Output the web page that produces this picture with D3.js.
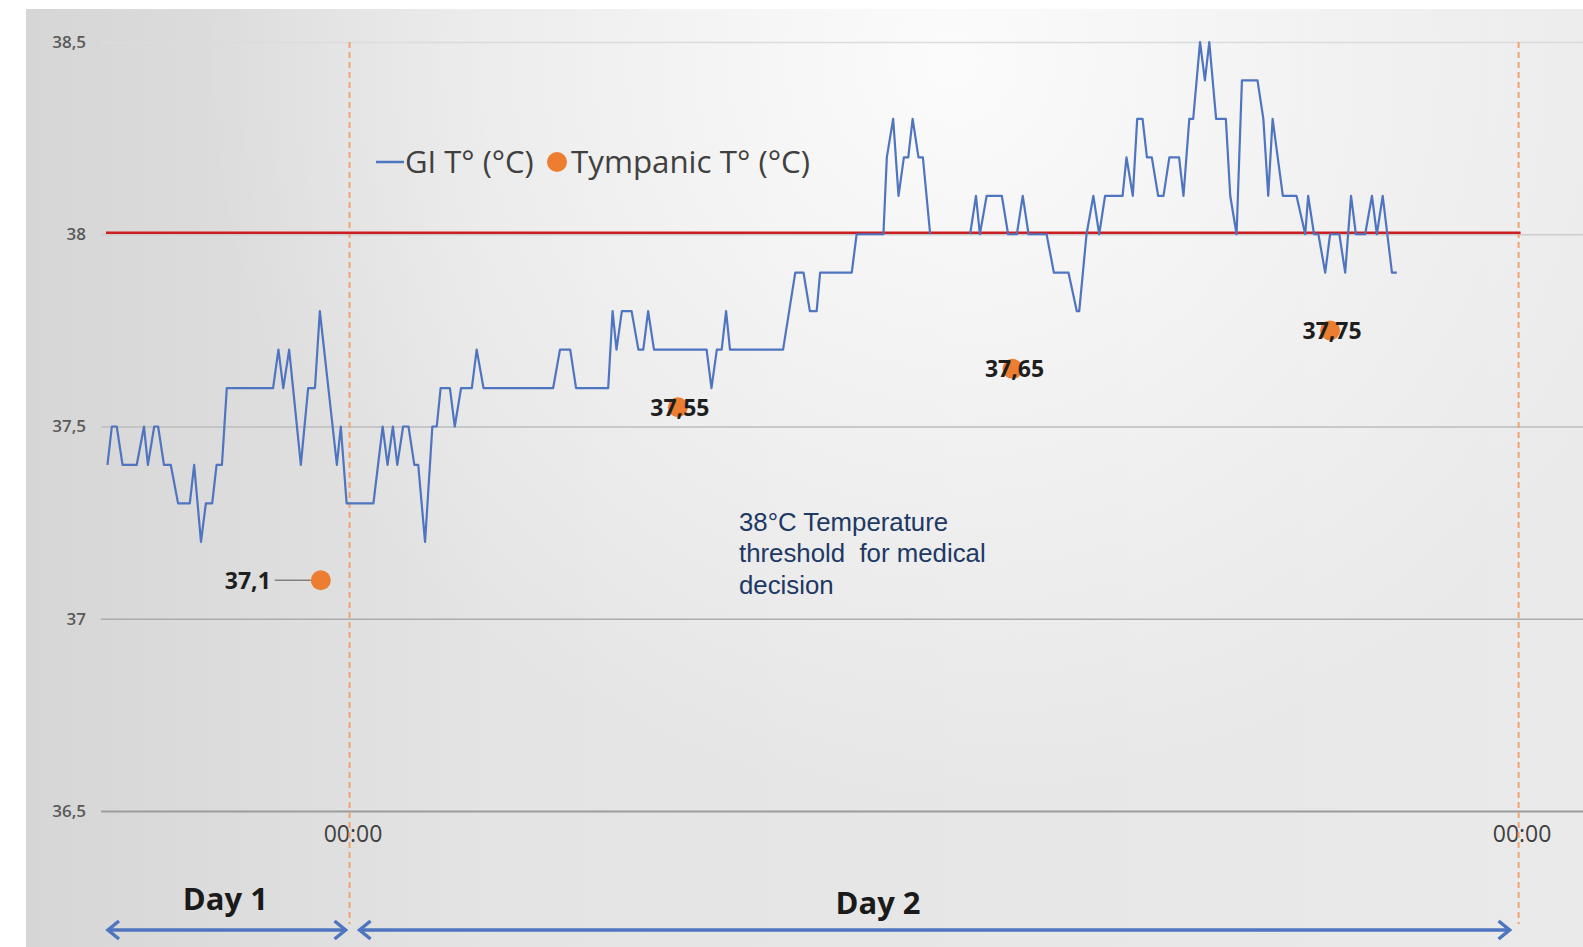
<!DOCTYPE html>
<html>
<head>
<meta charset="utf-8">
<script src="https://cdn.jsdelivr.net/npm/d3@7/dist/d3.min.js"></script>
<style>
  body { margin: 0; background: #fff; }
  svg { display: block; }
</style>
</head>
<body>
<div id="chart"></div>
<script>
// GI temperature: hours counted from Day 1 00:00, values in °C (null = gap in recording)
const giHours = [
  19.03, 19.12, 19.22, 19.34, 19.63, 19.78, 19.86, 19.99, 20.07, 20.19,
  20.33, 20.48, 20.72, 20.81, 20.95, 21.05, 21.18, 21.27, 21.38, 21.48,
  22.43, 22.54, 22.64, 22.76, 23.00, 23.15, 23.29, 23.39, 23.74, 23.82,
  23.94, 24.49, 24.68, 24.78, 24.89, 24.98, 25.10, 25.21, 25.33, 25.41,
  25.55, 25.70, 25.79, 25.87, 26.06, 26.16, 26.29, 26.51, 26.61, 26.75,
  28.18, 28.32, 28.53, 28.65, 29.31, 29.40, 29.48, 29.59, 29.79, 29.93,
  30.03, 30.13, 30.25, 31.33, 31.43, 31.54, 31.64, 31.73, 31.81, 32.90,
  33.15, 33.32, 33.45, 33.59, 33.66, 34.31, 34.41, 34.96, 35.03, 35.16,
  35.27, 35.38, 35.47, 35.56, 35.68, 35.77, 35.92, 36.30,
  36.74, 36.86, 36.94, 37.08, 37.39, 37.52, 37.70, 37.82, 37.94, 38.31,
  38.46, 38.76, 38.93, 38.98, 39.13, 39.27, 39.39, 39.51, 39.87, 39.95,
  40.08, 40.17, 40.28, 40.37, 40.47, 40.60, 40.71, 40.83, 41.03, 41.12,
  41.24, 41.32, 41.46, 41.56, 41.65, 41.79, 41.99, 42.08, 42.21, 42.32,
  42.64, 42.76, 42.86, 42.95, 43.16, 43.44, 43.62, 43.68, 43.80, 43.89,
  44.03, 44.13, 44.32, 44.44, 44.56, 44.66, 44.85, 44.99, 45.09, 45.21,
  45.40, 45.50
];
const giTemp = [
  37.4, 37.5, 37.5, 37.4, 37.4, 37.5, 37.4, 37.5, 37.5, 37.4,
  37.4, 37.3, 37.3, 37.4, 37.2, 37.3, 37.3, 37.4, 37.4, 37.6,
  37.6, 37.7, 37.6, 37.7, 37.4, 37.6, 37.6, 37.8, 37.4, 37.5,
  37.3, 37.3, 37.5, 37.4, 37.5, 37.4, 37.5, 37.5, 37.4, 37.4,
  37.2, 37.5, 37.5, 37.6, 37.6, 37.5, 37.6, 37.6, 37.7, 37.6,
  37.6, 37.7, 37.7, 37.6, 37.6, 37.8, 37.7, 37.8, 37.8, 37.7,
  37.7, 37.8, 37.7, 37.7, 37.6, 37.7, 37.7, 37.8, 37.7, 37.7,
  37.9, 37.9, 37.8, 37.8, 37.9, 37.9, 38.0, 38.0, 38.2, 38.3,
  38.1, 38.2, 38.2, 38.3, 38.2, 38.2, 38.0, null,
  38.0, 38.1, 38.0, 38.1, 38.1, 38.0, 38.0, 38.1, 38.0, 38.0,
  37.9, 37.9, 37.8, 37.8, 38.0, 38.1, 38.0, 38.1, 38.1, 38.2,
  38.1, 38.3, 38.3, 38.2, 38.2, 38.1, 38.1, 38.2, 38.2, 38.1,
  38.3, 38.3, 38.5, 38.4, 38.5, 38.3, 38.3, 38.1, 38.0, 38.4,
  38.4, 38.3, 38.1, 38.3, 38.1, 38.1, 38.0, 38.1, 38.0, 38.0,
  37.9, 38.0, 38.0, 37.9, 38.1, 38.0, 38.0, 38.1, 38.0, 38.1,
  37.9, 37.9
];

// Tympanic spot measurements
const tympHours = [23.41, 30.74, 37.61, 44.13];
const tympTemp = [37.1, 37.55, 37.65, 37.75];

const yTicks = [36.5, 37, 37.5, 38, 38.5];
const xTicks = [24, 48];
const xTickLabels = ["00:00", "00:00"];
const threshold = 38;

const dayNames = ["Day 1", "Day 2"];
const dayStart = [19, 24];
const dayEnd = [24, 48];
const dayLabelAt = [21.45, 34.85];

const legendLabels = ["GI T° (°C)", "Tympanic T° (°C)"];
const noteLines = ["38°C Temperature", "threshold  for medical", "decision"];

const W = 1583, H = 947;
const blue = "#4f74c0", orange = "#ed7d31";
const fontCal = "'Open Sans', 'Noto Sans', sans-serif";

const svg = d3.select("#chart").append("svg").attr("width", W).attr("height", H);
const defs = svg.append("defs");

// photographed slide background
const lin = defs.append("linearGradient").attr("id", "bgLin");
lin.append("stop").attr("offset", 0).attr("stop-color", "#d6d6d6");
lin.append("stop").attr("offset", 0.3).attr("stop-color", "#e4e4e4");
lin.append("stop").attr("offset", 1).attr("stop-color", "#eaeaea");
const rad = defs.append("radialGradient").attr("id", "bgRad")
  .attr("gradientUnits", "userSpaceOnUse")
  .attr("cx", 950).attr("cy", 60).attr("r", 750);
rad.append("stop").attr("offset", 0).attr("stop-color", "#fff").attr("stop-opacity", 0.85);
rad.append("stop").attr("offset", 1).attr("stop-color", "#fff").attr("stop-opacity", 0);

svg.append("rect").attr("width", W).attr("height", H).attr("fill", "#fff");
svg.append("rect").attr("x", 26).attr("y", 9).attr("width", W - 26).attr("height", H - 9)
  .attr("fill", "url(#bgLin)");
svg.append("rect").attr("x", 26).attr("y", 9).attr("width", W - 26).attr("height", H - 9)
  .attr("fill", "url(#bgRad)");

const x = d3.scaleLinear().domain([19, 48]).range([106, 1518.6]);
const y = d3.scaleLinear().domain([36.5, 38.5]).range([811, 42]);
const gridColor = d3.scaleLinear().domain([36.5, 38.5]).range(["#9c9c9c", "#dcdcdc"]);

// y axis + gridlines
const yAxisG = svg.append("g")
  .attr("transform", "translate(101,0)")
  .call(d3.axisLeft(y).tickValues(yTicks).tickSize(-(W - 101)).tickPadding(15)
    .tickFormat((d) => String(d).replace(".", ",")));
yAxisG.select(".domain").remove();
yAxisG.selectAll(".tick line")
  .attr("stroke", (d) => gridColor(d))
  .attr("stroke-width", (d) => (d === 36.5 ? 2 : 1.5));
yAxisG.selectAll(".tick text")
  .attr("fill", "#5a5a5a")
  .attr("font-family", fontCal)
  .attr("font-weight", 600)
  .attr("font-size", "17px");

// x axis labels at midnight
const xAxisG = svg.append("g")
  .attr("transform", `translate(0,${y(36.5)})`)
  .call(d3.axisBottom(x).tickValues(xTicks).tickSize(0).tickPadding(15)
    .tickFormat((d, i) => xTickLabels[i]));
xAxisG.select(".domain").remove();
xAxisG.selectAll(".tick text")
  .attr("fill", "#404040")
  .attr("font-family", fontCal)
  .attr("font-size", "23px")
  .attr("dx", 3);

// midnight dashed separators
svg.append("g").selectAll("line")
  .data(xTicks)
  .join("line")
  .attr("x1", (d) => x(d)).attr("x2", (d) => x(d))
  .attr("y1", y(38.5)).attr("y2", 924)
  .attr("stroke", "#f2a46e")
  .attr("stroke-width", 2)
  .attr("stroke-dasharray", "6,4");

// 38 °C threshold line
svg.append("line")
  .attr("x1", x(19)).attr("x2", x(48) + 2)
  .attr("y1", y(threshold) - 1.5).attr("y2", y(threshold) - 1.5)
  .attr("stroke", "#cc1e22")
  .attr("stroke-width", 2.5);

// GI temperature line
const giData = giHours.map((h, i) => ({ h, t: giTemp[i] }));
const line = d3.line()
  .defined((d) => d.t !== null)
  .x((d) => x(d.h))
  .y((d) => y(d.t));
svg.append("path")
  .datum(giData)
  .attr("fill", "none")
  .attr("stroke", blue)
  .attr("stroke-width", 2.2)
  .attr("stroke-linejoin", "round")
  .attr("d", line);

// tympanic points
const tymp = tympHours.map((h, i) => ({ h, t: tympTemp[i] }));
svg.append("g").selectAll("circle")
  .data(tymp)
  .join("circle")
  .attr("cx", (d) => x(d.h))
  .attr("cy", (d) => y(d.t))
  .attr("r", 10)
  .attr("fill", orange);

const fmt = (v) => String(v).replace(".", ",");
const first = tymp[0];
svg.append("line")
  .attr("x1", x(first.h) - 46).attr("x2", x(first.h) - 10)
  .attr("y1", y(first.t)).attr("y2", y(first.t))
  .attr("stroke", "#808080").attr("stroke-width", 1.5);
svg.append("g").selectAll("text")
  .data(tymp)
  .join("text")
  .attr("x", (d, i) => (i === 0 ? x(d.h) - 50 : x(d.h) + 2))
  .attr("y", (d) => y(d.t))
  .attr("dy", "0.36em")
  .attr("text-anchor", (d, i) => (i === 0 ? "end" : "middle"))
  .attr("font-family", fontCal)
  .attr("font-weight", 700)
  .attr("font-size", "23px")
  .attr("fill", "#1e1e1e")
  .text((d) => fmt(d.t));

// legend
const leg = svg.append("g");
leg.append("line").attr("x1", 376).attr("x2", 404).attr("y1", 162).attr("y2", 162)
  .attr("stroke", blue).attr("stroke-width", 2.5);
leg.append("text").attr("x", 405).attr("y", 173)
  .attr("font-family", fontCal).attr("font-size", "31px").attr("fill", "#404040")
  .text(legendLabels[0]);
leg.append("circle").attr("cx", 557).attr("cy", 162).attr("r", 10).attr("fill", orange);
leg.append("text").attr("x", 571).attr("y", 173)
  .attr("font-family", fontCal).attr("font-size", "31.3px").attr("fill", "#404040")
  .text(legendLabels[1]);

// threshold note
svg.append("g").selectAll("text")
  .data(noteLines)
  .join("text")
  .attr("x", 739)
  .attr("y", (d, i) => 531 + i * 31.3)
  .attr("font-family", "'Liberation Sans', Arial, sans-serif")
  .attr("font-size", "25.8px")
  .attr("fill", "#203864")
  .style("white-space", "pre")
  .text((d) => d);

// day arrows
const marker = defs.append("marker")
  .attr("id", "arrowHead")
  .attr("viewBox", "0 0 14 20")
  .attr("refX", 12).attr("refY", 10)
  .attr("markerUnits", "userSpaceOnUse")
  .attr("markerWidth", 14).attr("markerHeight", 20)
  .attr("orient", "auto-start-reverse")
  .style("overflow", "visible");
marker.append("path").attr("d", "M1,1 L12,10 L1,19")
  .attr("fill", "none").attr("stroke", blue).attr("stroke-width", 3.5)
  .attr("stroke-linejoin", "miter");

const dayG = svg.append("g");
dayNames.forEach((name, i) => {
  const x0 = x(dayStart[i]) + (i === 0 ? 2 : 10);
  const x1 = x(dayEnd[i]) - (i === 0 ? 4 : 9);
  dayG.append("line")
    .attr("x1", x0).attr("x2", x1).attr("y1", 930).attr("y2", 930)
    .attr("stroke", blue).attr("stroke-width", 3.5)
    .attr("marker-start", "url(#arrowHead)")
    .attr("marker-end", "url(#arrowHead)");
  dayG.append("text")
    .attr("x", x(dayLabelAt[i]))
    .attr("y", i === 0 ? 910 : 914)
    .attr("text-anchor", "middle")
    .attr("font-family", fontCal)
    .attr("font-weight", 700)
    .attr("font-size", "31px")
    .attr("fill", "#1a1a1a")
    .text(name);
});
</script>
</body>
</html>
